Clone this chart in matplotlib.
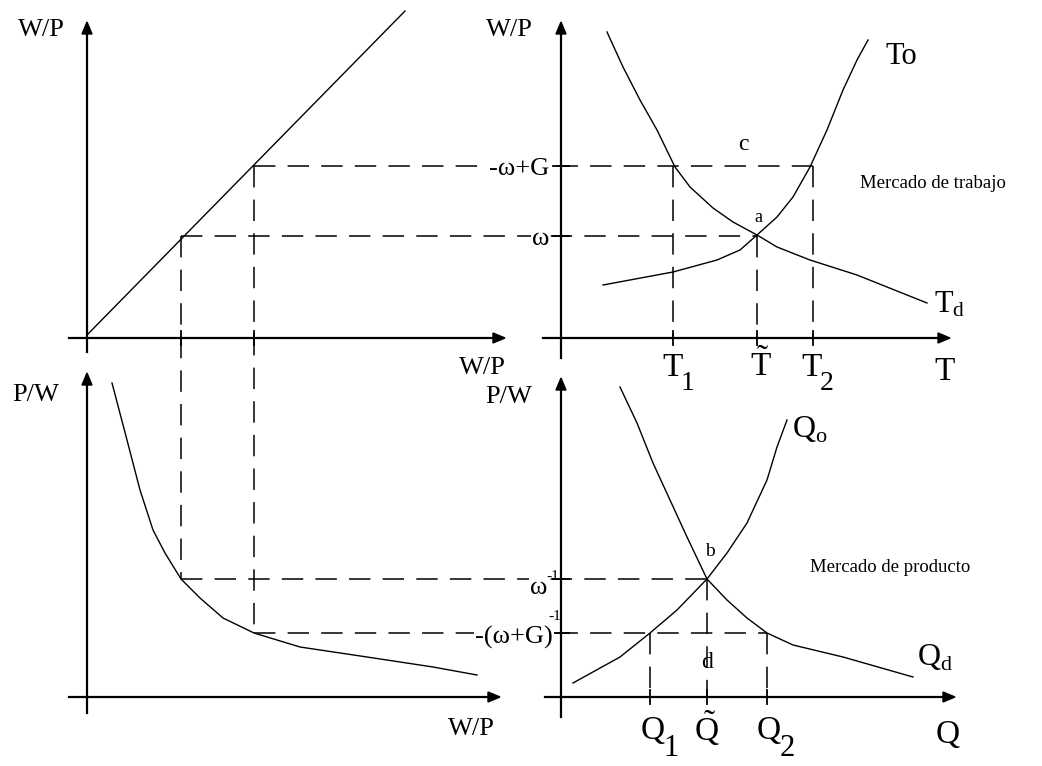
import matplotlib.pyplot as plt

plt.rcParams['font.family'] = ['Liberation Serif', 'DejaVu Serif']
plt.rcParams['mathtext.fontset'] = 'custom'
plt.rcParams['mathtext.rm'] = 'Liberation Serif'

W, H = 1042, 766

# curve points (canvas pixel coordinates)
diag_x = [87, 405]
diag_y = [335, 11]

wp_inv_x = [112, 127, 140, 153, 165, 181, 200, 223, 254, 300, 367, 433, 477]
wp_inv_y = [383, 440, 490, 530, 553, 579, 598, 618, 633, 647, 657, 667, 675]

td_x = [607, 623, 640, 657, 675, 690, 713, 733, 757, 777, 810, 857, 927]
td_y = [32, 67, 100, 130, 167, 187, 208, 222, 235, 247, 260, 275, 303]

to_x = [603, 673, 717, 740, 757, 777, 793, 810, 827, 843, 857, 868]
to_y = [285, 272, 260, 250, 235, 217, 197, 167, 130, 90, 60, 40]

qd_x = [620, 637, 653, 670, 687, 707, 727, 747, 767, 793, 843, 913]
qd_y = [387, 423, 463, 500, 537, 579, 600, 618, 633, 645, 657, 677]

qo_x = [573, 620, 650, 677, 707, 727, 747, 767, 777, 787]
qo_y = [683, 657, 633, 610, 579, 553, 523, 480, 447, 420]

# equilibrium / reference levels
omega_y, omegaG_y = 236, 166
inv_omega_y, inv_omegaG_y = 579, 633
wp1_x, wp2_x = 181, 254
t1_x, tt_x, t2_x = 673, 757, 813
q1_x, qt_x, q2_x = 650, 707, 767

fig = plt.figure(figsize=(W / 100, H / 100), dpi=100)
ax = fig.add_axes([0, 0, 1, 1])
ax.set_xlim(0, W)
ax.set_ylim(H, 0)
ax.axis('off')

AX_LW = 1.6
CURVE_LW = 1.0
DASH = (0, (14, 8))


def axes_cross(ox, oy, x_left, x_right, y_top, y_bottom):
    ax.plot([x_left, x_right - 10], [oy, oy], color='black', lw=AX_LW)
    ax.plot([ox, ox], [y_top + 10, y_bottom], color='black', lw=AX_LW)
    ax.fill([x_right - 12, x_right, x_right - 12], [oy - 5, oy, oy + 5], color='black')
    ax.fill([ox - 5, ox, ox + 5], [y_top + 12, y_top, y_top + 12], color='black')


def dashed(xs, ys):
    ax.plot(xs, ys, color='black', lw=1.1, linestyle=DASH, zorder=1)


def tick_x(x, oy):
    ax.plot([x, x], [oy - 7, oy + 7], color='black', lw=1.3)


def tick_y(y, ox):
    ax.plot([ox - 8, ox + 8], [y, y], color='black', lw=1.3)


# dashed guide lines
dashed([wp1_x, tt_x], [omega_y, omega_y])
dashed([wp2_x, t2_x], [omegaG_y, omegaG_y])
dashed([wp1_x, wp1_x], [omega_y, inv_omega_y])
dashed([wp2_x, wp2_x], [omegaG_y, inv_omegaG_y])
dashed([t1_x, t1_x], [omegaG_y, 338])
dashed([tt_x, tt_x], [omega_y, 338])
dashed([t2_x, t2_x], [omegaG_y, 338])
dashed([wp1_x, qt_x], [inv_omega_y, inv_omega_y])
dashed([wp2_x, q2_x], [inv_omegaG_y, inv_omegaG_y])
dashed([q1_x, q1_x], [inv_omegaG_y, 697])
dashed([qt_x, qt_x], [inv_omega_y, 697])
dashed([q2_x, q2_x], [inv_omegaG_y, 697])

# axes of the four panels
axes_cross(87, 338, 69, 505, 22, 352)
axes_cross(561, 338, 543, 950, 22, 358)
axes_cross(87, 697, 69, 500, 373, 713)
axes_cross(561, 697, 545, 955, 378, 717)

for x in (wp1_x, wp2_x):
    tick_x(x, 338)
for x in (t1_x, tt_x, t2_x):
    tick_x(x, 338)
for x in (q1_x, qt_x, q2_x):
    tick_x(x, 697)
for y in (omega_y, omegaG_y):
    tick_y(y, 561)
for y in (inv_omega_y, inv_omegaG_y):
    tick_y(y, 561)

# curves
ax.plot(diag_x, diag_y, color='black', lw=CURVE_LW)
ax.plot(wp_inv_x, wp_inv_y, color='black', lw=CURVE_LW)
ax.plot(td_x, td_y, color='black', lw=CURVE_LW)
ax.plot(to_x, to_y, color='black', lw=CURVE_LW)
ax.plot(qd_x, qd_y, color='black', lw=CURVE_LW)
ax.plot(qo_x, qo_y, color='black', lw=CURVE_LW)


def txt(x, y, s, size, ha='left', va='center', mask=False):
    t = ax.text(x, y, s, fontsize=size, ha=ha, va=va, color='black', zorder=3)
    if mask:
        t.set_bbox(dict(facecolor='white', edgecolor='none', pad=0.5))


# axis titles
txt(18, 30, 'W/P', 19)
txt(486, 30, 'W/P', 19)
txt(12, 395, 'P/W', 19)
txt(485, 397, 'P/W', 19)
txt(506, 368, 'W/P', 19, ha='right')
txt(495, 729, 'W/P', 19, ha='right')
txt(945, 372, 'T', 24, ha='center')
txt(948, 735, 'Q', 24, ha='center')

# tick labels, labour market
txt(673, 368, 'T', 24, ha='center')
txt(688, 383, '1', 20, ha='center')
txt(761, 366, r'$\tilde{\mathrm{T}}$', 24, ha='center')
txt(812, 368, 'T', 24, ha='center')
txt(827, 383, '2', 20, ha='center')
txt(549, 169, '-ω+G', 19, ha='right', mask=True)
txt(549, 239, 'ω', 19, ha='right', mask=True)

# tick labels, product market
txt(653, 731, 'Q', 24, ha='center')
txt(671, 748, '1', 22, ha='center')
txt(707, 728, r'$\tilde{\mathrm{Q}}$', 24, ha='center')
txt(769, 731, 'Q', 24, ha='center')
txt(787, 748, '2', 22, ha='center')
txt(547, 588, 'ω', 19, ha='right', mask=True)
txt(559, 576, '-1', 11, ha='right')
txt(553, 637, '-(ω+G)', 19, ha='right', mask=True)
txt(561, 617, '-1', 11, ha='right')

# curve names
txt(885, 57, 'To', 22)
txt(934, 305, r'$\mathrm{T_d}$', 22)
txt(793, 430, 'Q', 23)
txt(815, 437, 'o', 16)
txt(918, 658, 'Q', 23)
txt(940, 666, 'd', 16)

# points
txt(743, 145, 'c', 17, ha='center')
txt(758, 218, 'a', 13, ha='center')
txt(710, 551, 'b', 14, ha='center')
txt(707, 662, 'd', 17, ha='center')

txt(860, 184, 'Mercado de trabajo', 13.5)
txt(810, 568, 'Mercado de producto', 13.5)

fig.savefig('out.png', dpi=100, facecolor='white')
